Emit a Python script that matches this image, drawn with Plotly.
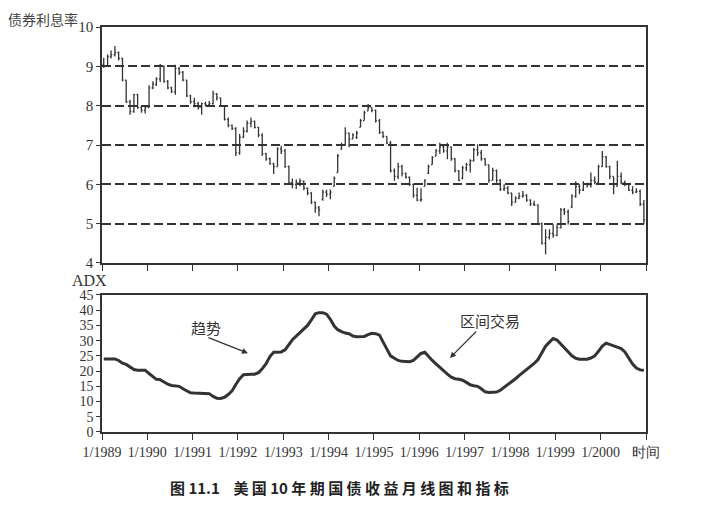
import pandas as pd
import plotly.graph_objects as go

# ---------------- data ----------------
months = pd.date_range("1989-01-01", periods=144, freq="MS") + pd.Timedelta(days=14)

open_ = [
    9.05, 9.00, 9.25, 9.30, 9.35, 9.20, 8.65, 8.10, 7.85, 8.28, 7.95, 7.88,   # 1989
    7.95, 8.45, 8.55, 8.68, 9.00, 8.62, 8.45, 8.35, 8.95, 8.85, 8.65, 8.25,   # 1990
    8.10, 8.05, 7.95, 8.05, 8.02, 8.05, 8.30, 8.20, 8.00, 7.65, 7.50, 7.42,   # 1991
    6.80, 7.20, 7.35, 7.55, 7.60, 7.45, 7.25, 6.78, 6.65, 6.52, 6.45, 6.90,   # 1992
    6.85, 6.45, 6.05, 6.00, 6.05, 6.08, 5.90, 5.78, 5.55, 5.40, 5.62, 5.80,   # 1993
    5.75, 5.95, 6.30, 6.90, 7.00, 7.30, 7.15, 7.20, 7.45, 7.62, 7.87, 7.95,   # 1994
    7.88, 7.62, 7.32, 7.22, 7.05, 6.35, 6.20, 6.45, 6.28, 6.18, 6.00, 5.72,   # 1995
    5.60, 5.95, 6.28, 6.50, 6.72, 6.85, 6.95, 6.85, 6.95, 6.65, 6.35, 6.15,   # 1996
    6.42, 6.50, 6.60, 6.88, 6.80, 6.65, 6.50, 6.10, 6.35, 6.10, 5.88, 5.90,   # 1997
    5.78, 5.55, 5.65, 5.70, 5.72, 5.60, 5.50, 5.48, 5.00, 4.50, 4.65, 4.75,   # 1998
    4.70, 4.90, 5.35, 5.30, 5.42, 5.70, 5.95, 5.85, 6.00, 5.98, 6.10, 6.05,   # 1999
    6.45, 6.70, 6.45, 6.20, 5.95, 6.20, 6.05, 6.00, 5.85, 5.80, 5.82, 5.50,   # 2000
]
high = [
    9.22, 9.30, 9.40, 9.52, 9.38, 9.22, 8.66, 8.15, 8.30, 8.30, 8.00, 8.00,
    8.52, 8.62, 8.72, 9.06, 9.02, 8.65, 8.48, 9.04, 8.98, 8.88, 8.66, 8.28,
    8.20, 8.10, 8.08, 8.10, 8.12, 8.38, 8.32, 8.20, 8.00, 7.70, 7.52, 7.45,
    7.28, 7.45, 7.62, 7.70, 7.62, 7.46, 7.30, 6.80, 6.68, 6.55, 6.94, 6.98,
    6.90, 6.48, 6.15, 6.12, 6.15, 6.10, 5.92, 5.80, 5.56, 5.45, 5.86, 5.86,
    5.87, 6.20, 6.77, 7.06, 7.45, 7.32, 7.30, 7.36, 7.66, 7.87, 8.04, 7.96,
    7.90, 7.66, 7.34, 7.22, 7.10, 6.40, 6.55, 6.50, 6.30, 6.20, 6.02, 5.91,
    5.90, 6.13, 6.50, 6.72, 6.90, 7.06, 7.02, 7.06, 6.96, 6.66, 6.36, 6.47,
    6.55, 6.64, 6.93, 7.02, 6.87, 6.66, 6.50, 6.42, 6.38, 6.13, 6.00, 5.96,
    5.78, 5.70, 5.79, 5.83, 5.75, 5.62, 5.58, 5.49, 5.03, 4.86, 4.86, 4.98,
    4.98, 5.40, 5.40, 5.36, 5.75, 6.08, 6.00, 6.08, 6.04, 6.30, 6.20, 6.50,
    6.85, 6.72, 6.47, 6.20, 6.60, 6.30, 6.10, 6.00, 5.95, 5.90, 5.87, 5.60,
]
low = [
    8.96, 8.98, 9.20, 9.25, 9.15, 8.62, 8.07, 7.77, 7.82, 7.92, 7.82, 7.80,
    7.95, 8.42, 8.50, 8.60, 8.58, 8.42, 8.32, 8.28, 8.78, 8.62, 8.22, 8.05,
    7.96, 7.90, 7.77, 7.98, 7.98, 8.03, 8.13, 7.98, 7.62, 7.45, 7.38, 6.72,
    6.75, 7.18, 7.32, 7.45, 7.42, 7.20, 6.72, 6.60, 6.50, 6.26, 6.45, 6.77,
    6.42, 5.98, 5.90, 5.88, 5.95, 5.85, 5.72, 5.50, 5.28, 5.19, 5.58, 5.68,
    5.62, 5.95, 6.30, 6.88, 6.98, 6.94, 7.15, 7.15, 7.45, 7.62, 7.87, 7.83,
    7.57, 7.28, 7.18, 7.02, 6.30, 6.09, 6.13, 6.20, 6.15, 5.96, 5.66, 5.57,
    5.56, 5.95, 6.26, 6.50, 6.72, 6.77, 6.80, 6.64, 6.60, 6.30, 6.08, 6.13,
    6.34, 6.30, 6.58, 6.72, 6.60, 6.47, 6.04, 6.10, 6.04, 5.83, 5.83, 5.75,
    5.45, 5.53, 5.62, 5.66, 5.56, 5.45, 5.45, 4.98, 4.47, 4.22, 4.60, 4.64,
    4.68, 4.88, 5.22, 4.98, 5.40, 5.66, 5.75, 5.83, 5.92, 5.92, 6.00, 6.04,
    6.45, 6.42, 6.13, 5.75, 5.95, 6.00, 5.95, 5.83, 5.75, 5.78, 5.45, 5.00,
]
close = [
    9.00, 9.25, 9.30, 9.35, 9.20, 8.65, 8.10, 7.85, 8.28, 7.95, 7.88, 7.95,
    8.45, 8.55, 8.68, 9.00, 8.62, 8.45, 8.35, 8.95, 8.85, 8.65, 8.25, 8.10,
    8.05, 7.95, 8.05, 8.02, 8.05, 8.30, 8.20, 8.00, 7.65, 7.50, 7.42, 6.80,
    7.20, 7.35, 7.55, 7.60, 7.45, 7.25, 6.78, 6.65, 6.52, 6.45, 6.90, 6.85,
    6.45, 6.05, 6.00, 6.05, 6.08, 5.90, 5.78, 5.55, 5.40, 5.35, 5.80, 5.75,
    5.80, 6.15, 6.72, 7.00, 7.30, 7.15, 7.25, 7.30, 7.62, 7.82, 7.95, 7.88,
    7.62, 7.32, 7.22, 7.05, 6.35, 6.20, 6.45, 6.28, 6.18, 6.00, 5.72, 5.60,
    5.62, 6.10, 6.45, 6.68, 6.85, 6.95, 6.85, 6.95, 6.65, 6.35, 6.10, 6.42,
    6.50, 6.60, 6.88, 6.80, 6.65, 6.50, 6.10, 6.35, 6.10, 5.88, 5.90, 5.78,
    5.55, 5.65, 5.70, 5.72, 5.60, 5.50, 5.48, 5.00, 4.50, 4.65, 4.75, 4.70,
    4.90, 5.35, 5.30, 5.05, 5.70, 5.95, 5.85, 6.00, 5.98, 6.10, 6.05, 6.45,
    6.70, 6.45, 6.20, 5.95, 6.20, 6.05, 6.00, 5.85, 5.80, 5.82, 5.50, 5.10,
]
adx = [
    24.0, 24.0, 24.0, 24.0, 23.5, 22.6, 22.2, 21.2, 20.5, 20.3, 20.3, 20.3,
    19.2, 18.2, 17.3, 17.2, 16.5, 15.7, 15.3, 15.2, 15.0, 14.2, 13.5, 12.9,
    12.8, 12.8, 12.8, 12.8, 12.6, 11.7, 11.1, 11.0, 11.4, 12.3, 13.5, 15.6,
    17.5, 18.8, 19.0, 19.0, 19.0, 19.5, 20.8, 22.4, 24.8, 26.2, 26.2, 26.3,
    27.0, 28.6, 30.3, 31.5, 32.7, 33.8, 35.0, 36.8, 38.8, 39.2, 39.2, 38.7,
    37.0, 34.8, 33.6, 33.0, 32.5, 32.3, 31.5, 31.3, 31.3, 31.4, 32.0, 32.4,
    32.3, 31.8, 29.6, 27.0, 25.0, 24.2, 23.5, 23.2, 23.1, 23.1, 23.5, 24.6,
    25.8, 26.2, 24.8, 23.5, 22.4, 21.2, 20.0, 19.0, 18.0, 17.5, 17.3, 17.0,
    16.3, 15.5, 15.2, 15.0, 14.2, 13.2, 13.0, 13.0, 13.1, 13.7, 14.6, 15.6,
    16.3, 17.5, 18.5, 19.5, 20.7, 21.6, 22.5, 23.8, 26.0, 28.2, 29.5, 30.7,
    30.2, 28.8, 27.8, 26.2, 25.0, 24.2, 23.9, 23.9, 23.9, 24.3, 25.0, 26.5,
    28.2, 29.2, 28.8, 28.2, 28.0, 27.4, 26.3, 24.5, 22.3, 21.0, 20.4, 20.3,
]

year_ticks = [f"{y}-01-01" for y in range(1989, 2002)]
year_labels = [f"1/{y}" for y in range(1989, 2001)] + ["时间"]
price_ticks = [4, 5, 6, 7, 8, 9, 10]
adx_ticks = [0, 5, 10, 15, 20, 25, 30, 35, 40, 45]

# ---------------- styles ----------------
INK = "#333333"
SERIF = "Times New Roman, Liberation Serif, DejaVu Serif, serif"
CJK = "Noto Sans CJK SC, sans-serif"
x_range = ["1989-01-01", "2001-01-01"]

fig = go.Figure()

fig.add_trace(go.Ohlc(
    x=months, open=open_, high=high, low=low, close=close,
    increasing=dict(line=dict(color=INK, width=1.3)),
    decreasing=dict(line=dict(color=INK, width=1.3)),
    tickwidth=0.35, xaxis="x", yaxis="y", showlegend=False, hoverinfo="skip",
))

fig.add_trace(go.Scatter(
    x=months, y=adx, mode="lines",
    line=dict(color=INK, width=3), xaxis="x2", yaxis="y2",
    showlegend=False, hoverinfo="skip",
))

axis_common = dict(
    showline=True, linecolor=INK, linewidth=1.6, mirror=True,
    ticks="outside", tickcolor=INK, tickwidth=1.3, zeroline=False,
)

# page body has an 8px margin, so the figure is 8px smaller
fig.update_layout(
    width=700, height=501,
    margin=dict(l=94, r=62, t=19, b=77),
    paper_bgcolor="white", plot_bgcolor="white",
    showlegend=False,
    xaxis=dict(
        domain=[0, 1], anchor="y", range=x_range, type="date",
        tickvals=year_ticks, showticklabels=False, ticklen=6,
        showgrid=False, rangeslider=dict(visible=False), **axis_common,
    ),
    yaxis=dict(
        domain=[0.4173, 1], anchor="x", range=[4, 10], tickvals=price_ticks,
        ticklen=4, showgrid=True, gridcolor=INK, gridwidth=1.5,
        griddash="9px,4px",
        tickfont=dict(family=SERIF, size=15, color=INK), **axis_common,
    ),
    xaxis2=dict(
        domain=[0, 1], anchor="y2", range=x_range, type="date",
        tickvals=year_ticks, ticktext=year_labels, ticklen=6,
        showgrid=False,
        tickfont=dict(family=SERIF, size=14, color=INK), **axis_common,
    ),
    yaxis2=dict(
        domain=[0, 0.3383], anchor="x2", range=[0, 45], tickvals=adx_ticks,
        ticklen=4, showgrid=False,
        tickfont=dict(family=SERIF, size=14, color=INK), **axis_common,
    ),
)

annotations = [
    dict(text="债券利息率", xref="paper", yref="paper", x=-0.0404, y=1.02,
         xanchor="right", yanchor="middle", showarrow=False,
         font=dict(family=CJK, size=14, color="#444444")),
    dict(text="ADX", xref="paper", yref="paper", x=0.013, y=0.373,
         xanchor="right", yanchor="middle", showarrow=False,
         font=dict(family=SERIF, size=16, color=INK)),
    dict(text="趋势", xref="x2", yref="y2", x="1991-04-19", y=34.4,
         showarrow=False, font=dict(family=CJK, size=15, color=INK)),
    dict(text="区间交易", xref="x2", yref="y2", x="1997-07-27", y=36.7,
         showarrow=False, font=dict(family=CJK, size=15, color=INK)),
    dict(text="", xref="x2", yref="y2", x="1992-03-22", y=25.9,
         axref="x2", ayref="y2", ax="1991-04-27", ay=31.2,
         showarrow=True, arrowhead=2, arrowsize=1, arrowwidth=1.2,
         arrowcolor=INK),
    dict(text="", xref="x2", yref="y2", x="1996-09-04", y=24.3,
         axref="x2", ayref="y2", ax="1997-04-16", ay=33.5,
         showarrow=True, arrowhead=2, arrowsize=1, arrowwidth=1.2,
         arrowcolor=INK),
    dict(text="图 11.1\u00a0\u00a0\u00a0\u00a0美 国 10 年 期 国 债 收 益 月 线 图 和 指 标",
         xref="paper", yref="paper", x=0.4357, y=-0.138,
         xanchor="center", yanchor="middle", showarrow=False,
         font=dict(family=CJK, size=15, color="#222222", weight="bold")),
]
fig.update_layout(annotations=annotations)

fig.write_html("out.html")
